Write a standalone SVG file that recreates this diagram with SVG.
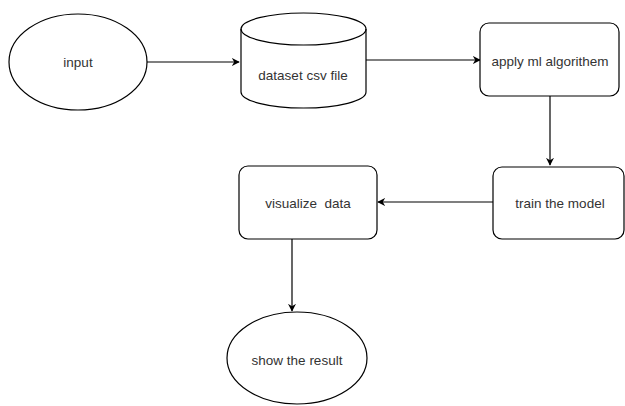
<svg xmlns="http://www.w3.org/2000/svg" width="625" height="406" viewBox="0 0 625 406">
<style>
.s{fill:#fff;stroke:#000;stroke-width:1.2}
.t{font-family:"Liberation Sans",Arial,sans-serif;font-size:13.5px;fill:#333;text-anchor:middle;dominant-baseline:central}
.c{fill:none;stroke:#000;stroke-width:1.2}
</style>
<defs>
<marker id="a" viewBox="0 0 10 10" refX="9" refY="5" markerWidth="8" markerHeight="8" markerUnits="userSpaceOnUse" orient="auto">
<path d="M0,0 L10,5 L0,10 L3,5 z" fill="#000"/>
</marker>
</defs>
<rect width="625" height="406" fill="#fff"/>
<g id="connectors">
<path class="c" d="M147,62 L239,62" marker-end="url(#a)"/>
<path class="c" d="M366,60 L480,60" marker-end="url(#a)"/>
<path class="c" d="M550,96 L550,165" marker-end="url(#a)"/>
<path class="c" d="M493,202 L378,202" marker-end="url(#a)"/>
<path class="c" d="M292,239 L292,311" marker-end="url(#a)"/>
</g>
<g id="input">
<ellipse class="s" cx="78" cy="62" rx="69" ry="48"/>
<text class="t" x="78" y="62">input</text>
</g>
<g id="dataset">
<path class="s" d="M241,29 A62.5,16 0 0 1 366,29 L366,92 A62.5,16 0 0 1 241,92 Z"/>
<path class="c" d="M241,29 A62.5,16 0 0 0 366,29"/>
<text class="t" x="303" y="75">dataset csv file</text>
</g>
<g id="apply">
<rect class="s" x="480" y="23" width="139" height="73" rx="9"/>
<text class="t" x="550" y="61">apply ml algorithem</text>
</g>
<g id="train">
<rect class="s" x="493" y="167" width="131" height="72" rx="9"/>
<text class="t" x="560" y="203">train the model</text>
</g>
<g id="visualize">
<rect class="s" x="239" y="166" width="138" height="73" rx="9"/>
<text class="t" x="308" y="203" xml:space="preserve">visualize  data</text>
</g>
<g id="result">
<ellipse class="s" cx="297" cy="358" rx="70" ry="46"/>
<text class="t" x="297" y="360">show the result</text>
</g>
</svg>
